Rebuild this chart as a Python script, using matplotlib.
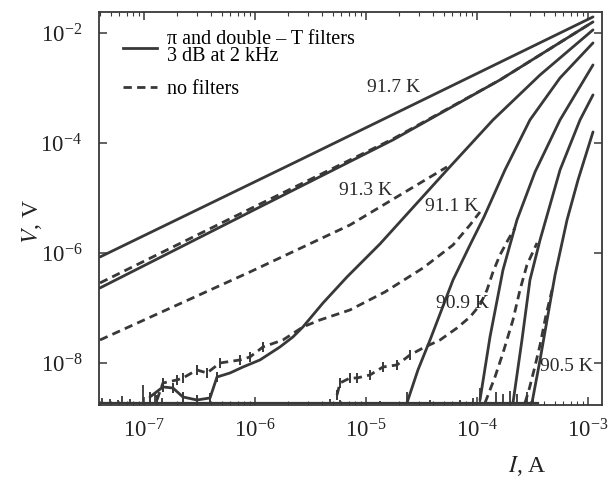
import numpy as np
import matplotlib
matplotlib.use("Agg")
import matplotlib.pyplot as plt
from matplotlib.lines import Line2D
from matplotlib.ticker import LogLocator, FixedLocator, NullFormatter

plt.rcParams["font.family"] = ["Liberation Serif", "DejaVu Serif"]
plt.rcParams["mathtext.fontset"] = "stix"

INK = "#383838"

# all curves as log10(I / A), log10(V / V)
# solid = with pi and double-T filters, dashed = no filters
lgI_s1 = [-7.396, -5.595, -2.955]
lgV_s1 = [-6.073, -4.309, -1.709]

lgI_s2 = [-7.396, -6.045, -4.757, -3.793, -2.955]
lgV_s2 = [-6.636, -5.255, -3.945, -2.855, -1.800]
lgI_d2 = [-7.396, -6.045, -4.757, -3.793, -2.955]
lgV_d2 = [-6.545, -5.200, -3.927, -2.855, -1.800]

lgI_s3 = [-6.946, -6.829, -6.739, -6.649, -6.523, -6.405, -6.342, -6.225, -6.108, -5.955,
          -5.775, -5.658, -5.568, -5.387, -5.171, -4.874, -4.270, -3.856, -3.432, -2.955]
lgV_s3 = [-8.618, -8.436, -8.455, -8.618, -8.673, -8.636, -8.255, -8.182, -8.073, -7.945,
          -7.709, -7.527, -7.345, -6.909, -6.436, -5.836, -4.491, -3.582, -2.764, -1.945]
lgI_d3 = [-7.396, -6.045, -5.144, -4.270]
lgV_d3 = [-7.582, -6.345, -5.491, -4.436]

lgI_s4 = [-4.631, -4.532, -4.423, -4.216, -4.063, -3.937, -3.748, -3.523, -3.252, -2.955]
lgV_s4 = [-8.727, -8.127, -7.582, -6.491, -5.855, -5.345, -4.491, -3.582, -2.818, -2.182]
lgI_d4 = [-6.883, -6.829, -6.703, -6.649, -6.523, -6.432, -6.315, -6.135, -6.045, -5.928,
          -5.748, -5.568, -5.414, -5.144, -4.829, -4.486, -4.216, -4.063, -3.973]
lgV_d4 = [-8.673, -8.364, -8.309, -8.273, -8.127, -8.182, -8.000, -7.945, -7.891, -7.709,
          -7.582, -7.345, -7.218, -7.036, -6.709, -6.273, -5.855, -5.491, -5.255]

lgI_s5 = [-3.973, -3.883, -3.766, -3.640, -3.477, -3.252, -3.090, -2.955]
lgV_s5 = [-8.673, -7.527, -6.309, -5.400, -4.527, -3.582, -3.036, -2.582]
lgI_d5 = [-5.261, -5.234, -5.144, -5.081, -4.964, -4.847, -4.721, -4.604, -4.486, -4.333,
          -4.180, -4.063, -3.973, -3.910, -3.856, -3.793, -3.721, -3.658]
lgV_d5 = [-8.582, -8.364, -8.273, -8.273, -8.218, -8.073, -8.036, -7.855, -7.727, -7.582,
          -7.364, -7.164, -6.945, -6.673, -6.345, -6.036, -5.764, -5.545]

lgI_s6 = [-3.676, -3.595, -3.523, -3.432, -3.252, -3.072, -2.955]
lgV_s6 = [-8.727, -7.582, -6.491, -5.764, -4.491, -3.582, -3.127]
lgI_d6 = [-3.928, -3.838, -3.766, -3.676, -3.613, -3.550, -3.459]
lgV_d6 = [-8.727, -8.255, -7.818, -7.218, -6.673, -6.218, -5.818]

lgI_s7 = [-3.505, -3.432, -3.369, -3.297, -3.189, -3.090, -2.955]
lgV_s7 = [-8.727, -7.945, -7.218, -6.400, -5.400, -4.673, -3.800]
lgI_d7 = [-3.568, -3.532, -3.486, -3.432, -3.378, -3.324]
lgV_d7 = [-8.727, -8.491, -8.127, -7.673, -7.127, -6.673]

# noise floor of the voltmeter and the spikes sticking out of it
lgV_floor = -8.73
lgI_floor = [-7.405, -3.45]
lgI_spike = [-7.378, -7.306, -7.234, -7.198, -7.126, -7.009, -6.946, -6.901, -6.838, -5.324,
             -5.234, -4.874, -4.631, -4.423, -4.153, -4.036, -3.973, -3.829, -3.766, -3.703,
             -3.640, -3.550, -3.495]
lgV_spike = [-8.636, -8.655, -8.673, -8.600, -8.655, -8.400, -8.582, -8.527, -8.636, -8.655,
             -8.673, -8.691, -8.527, -8.673, -8.673, -8.636, -8.455, -8.527, -8.564, -8.509,
             -8.564, -8.527, -8.636]

temp_labels = ["91.7 K", "91.3 K", "91.1 K", "90.9 K", "90.5 K"]
temp_lgI = [-4.75, -5.00, -4.23, -4.13, -3.19]
temp_lgV = [-3.00, -4.86, -5.16, -6.91, -8.07]

# -----------------------------------------------------------------
fig = plt.figure(figsize=(6.12, 4.8), dpi=100)
ax = fig.add_axes([99 / 612, 1 - 405 / 480, 503 / 612, 393 / 480])

lw = 2.0
dash = (3.0, 1.9)

def p(lx, ly):
    return 10 ** np.asarray(lx), 10 ** np.asarray(ly)

solids = [(lgI_s1, lgV_s1, None), (lgI_s2, lgV_s2, None), (lgI_s3, lgV_s3, list(range(0, 7))),
          (lgI_s4, lgV_s4, None), (lgI_s5, lgV_s5, None), (lgI_s6, lgV_s6, None),
          (lgI_s7, lgV_s7, None)]
for lx, ly, mk in solids:
    x, y = p(lx, ly)
    ax.plot(x, y, color=INK, lw=lw, solid_capstyle="round",
            marker="|" if mk else None, markevery=mk, ms=7, mew=1.4)

dashed = [(lgI_d2, lgV_d2, None), (lgI_d3, lgV_d3, None), (lgI_d4, lgV_d4, list(range(0, 10))),
          (lgI_d5, lgV_d5, list(range(0, 8))), (lgI_d6, lgV_d6, None), (lgI_d7, lgV_d7, None)]
for lx, ly, mk in dashed:
    x, y = p(lx, ly)
    ax.plot(x, y, color=INK, lw=lw, dashes=dash,
            marker="|" if mk else None, markevery=mk, ms=7, mew=1.4)

# noise floor
fx, fy = p(lgI_floor, [lgV_floor, lgV_floor])
ax.plot(fx, fy, color=INK, lw=1.6)
sx, sy = p(lgI_spike, lgV_spike)
ax.vlines(sx, 10 ** lgV_floor, sy, color=INK, lw=1.3)

for t, lx, ly in zip(temp_labels, temp_lgI, temp_lgV):
    ax.text(10 ** lx, 10 ** ly, t, ha="center", va="center", fontsize=14, color="#2a2a2a")

ax.set_xscale("log")
ax.set_yscale("log")
ax.set_xlim(10 ** -7.405, 10 ** -2.874)
ax.set_ylim(10 ** -8.764, 10 ** -1.62)

ax.xaxis.set_major_locator(FixedLocator([1e-7, 1e-6, 1e-5, 1e-4, 1e-3]))
ax.xaxis.set_minor_locator(LogLocator(base=10, subs=np.arange(2, 10), numticks=20))
ax.xaxis.set_minor_formatter(NullFormatter())
ax.yaxis.set_major_locator(FixedLocator([1e-8, 1e-6, 1e-4, 1e-2]))
ax.yaxis.set_minor_locator(FixedLocator([]))

ax.tick_params(which="both", direction="in", top=True, right=True, colors=INK)
ax.tick_params(which="major", length=6, width=1.1, labelsize=16.5, labelcolor="#222222")
ax.tick_params(which="minor", length=3, width=0.8)
ax.tick_params(axis="x", which="major", pad=10)
ax.tick_params(axis="y", which="major", pad=12)
for s in ax.spines.values():
    s.set_linewidth(1.3)
    s.set_color(INK)

ax.set_xlabel("$I$, A", fontsize=17, color="#222222")
ax.xaxis.set_label_coords(0.851, -0.125)
ax.set_ylabel("$V$, V", fontsize=17, color="#222222")
ax.yaxis.set_label_coords(-0.11, 0.466)

handles = [Line2D([], [], color=INK, lw=lw),
           Line2D([], [], color=INK, lw=lw, dashes=dash)]
leg = ax.legend(handles, ["\u03c0 and double \u2013 T filters\n3 dB at 2 kHz", "no filters"],
                loc="upper left", bbox_to_anchor=(0.02, 0.99), frameon=False, fontsize=14.5,
                handlelength=1.7, handletextpad=0.5, labelspacing=0.7, borderpad=0.2)
for t in leg.get_texts():
    t.set_linespacing(0.85)

fig.savefig("out.png", dpi=100, facecolor="white")
